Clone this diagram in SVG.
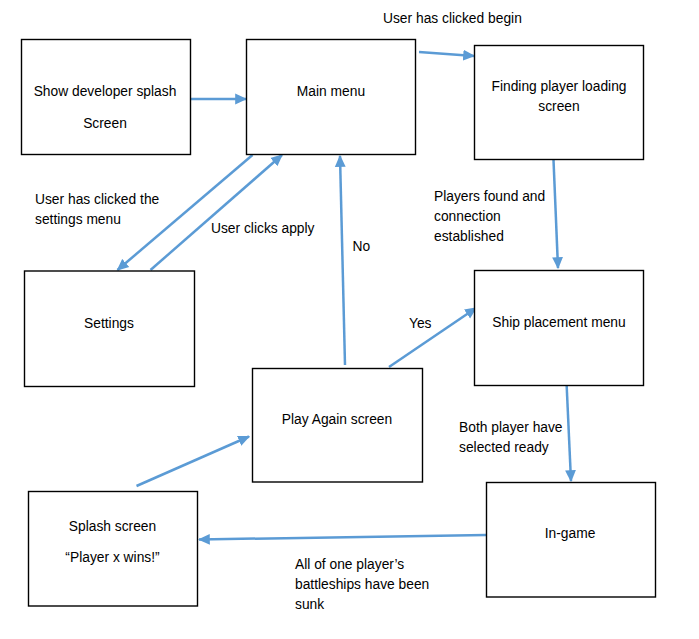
<svg xmlns="http://www.w3.org/2000/svg" width="699" height="639" viewBox="0 0 699 639">
<defs>
<marker id="ah" markerUnits="userSpaceOnUse" markerWidth="12" markerHeight="12" viewBox="0 0 10 10" refX="9" refY="5" orient="auto">
<path d="M0,0.5 L10,5 L0,9.5 Z" fill="#5B9BD5"/>
</marker>
<style>
rect.n{fill:#fff;stroke:#000;stroke-width:1.4}
text{font-family:"Liberation Sans",Arial,sans-serif;font-size:13.8px;fill:#000}
.c{text-anchor:middle}
#connectors line{stroke:#5B9BD5;stroke-width:2.5;marker-end:url(#ah)}
</style>
</defs>
<rect width="699" height="639" fill="#fff"/>
<g id="connectors">
<line x1="190.5" y1="99" x2="246" y2="99"/>
<line x1="419" y1="52" x2="474" y2="56"/>
<line x1="252.5" y1="155" x2="117.5" y2="270"/>
<line x1="150.5" y1="270" x2="282" y2="155"/>
<line x1="345" y1="365" x2="340" y2="156"/>
<line x1="553.5" y1="160" x2="558" y2="268"/>
<line x1="389" y1="367" x2="476" y2="308"/>
<line x1="566.5" y1="382" x2="571" y2="481"/>
<line x1="486" y1="535" x2="199" y2="539.5"/>
<line x1="136.5" y1="486" x2="249" y2="436.5"/>
</g>
<g id="splash-dev">
<rect class="n" x="21.5" y="39.5" width="169" height="115"/>
<text class="c" x="105" y="96">Show developer splash</text>
<text class="c" x="105" y="127.5">Screen</text>
</g>
<g id="main-menu">
<rect class="n" x="246.5" y="39.5" width="169" height="115"/>
<text class="c" x="331" y="96">Main menu</text>
</g>
<g id="finding">
<rect class="n" x="474.5" y="45.5" width="169" height="114"/>
<text class="c" x="559" y="91">Finding player loading</text>
<text class="c" x="559" y="111">screen</text>
</g>
<g id="settings">
<rect class="n" x="24.5" y="271" width="170" height="115.5"/>
<text class="c" x="109" y="328">Settings</text>
</g>
<g id="ship-placement">
<rect class="n" x="474.5" y="270.5" width="169" height="115"/>
<text class="c" x="559" y="327">Ship placement menu</text>
</g>
<g id="play-again">
<rect class="n" x="252.5" y="368.5" width="170" height="113.5"/>
<text class="c" x="337" y="424">Play Again screen</text>
</g>
<g id="in-game">
<rect class="n" x="486.5" y="482.5" width="169" height="114.5"/>
<text class="c" x="570" y="538">In-game</text>
</g>
<g id="splash-win">
<rect class="n" x="28.5" y="491.5" width="169" height="114.5"/>
<text class="c" x="112.5" y="531">Splash screen</text>
<text class="c" x="112.5" y="562">“Player x wins!”</text>
</g>
<g id="labels">
<text x="383" y="23">User has clicked begin</text>
<text x="35" y="204">User has clicked the</text>
<text x="35" y="223.5">settings menu</text>
<text x="211" y="233">User clicks apply</text>
<text x="352.5" y="251">No</text>
<text x="434" y="201">Players found and</text>
<text x="434" y="221">connection</text>
<text x="434" y="241">established</text>
<text x="409" y="327.5">Yes</text>
<text x="459" y="432">Both player have</text>
<text x="459" y="452">selected ready</text>
<text x="295" y="569">All of one player’s</text>
<text x="295" y="589">battleships have been</text>
<text x="295" y="608.5">sunk</text>
</g>
</svg>
